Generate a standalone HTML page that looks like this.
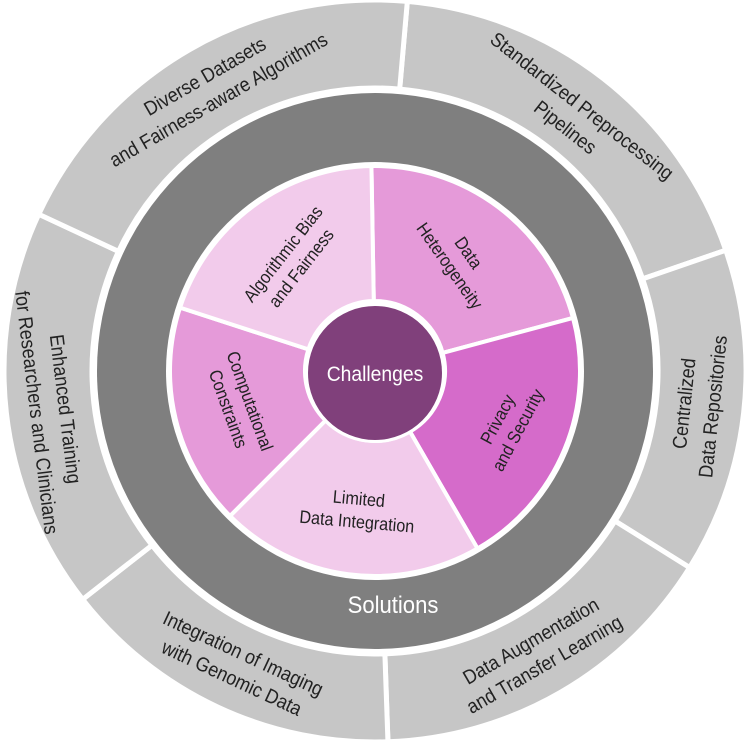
<!DOCTYPE html>
<html><head><meta charset="utf-8">
<style>
html,body{margin:0;padding:0;background:#fff;width:750px;height:742px;overflow:hidden}
svg text{font-family:"Liberation Sans",sans-serif}
</style></head>
<body>
<svg id="s" width="750" height="742" viewBox="0 0 750 742" xmlns="http://www.w3.org/2000/svg"></svg>
<script>
const CX=375,CY=371,s=document.getElementById('s');
function pt(r,a){const t=(a-90)*Math.PI/180;return [CX+r*Math.cos(t),CY+r*Math.sin(t)];}
function sector(r1,r2,a1,a2,fill,sw){
 const p1=pt(r2,a1),p2=pt(r2,a2),p3=pt(r1,a2),p4=pt(r1,a1);const lg=(a2-a1)>180?1:0;
 const d=`M${p1} A${r2},${r2} 0 ${lg} 1 ${p2} L${p3} A${r1},${r1} 0 ${lg} 0 ${p4}Z`;
 return `<path d="${d}" fill="${fill}" stroke="#fff" stroke-width="${sw}"/>`;}
function label(lines,r,a,size,gap,rot){
 let bottom=(a%360)>90&&(a%360)<270;
 let ro=rot!==undefined?rot:(bottom?a-180:a);
 const [x,y]=pt(r,a);let out=`<g transform="translate(${x},${y}) rotate(${ro}) scale(0.9,1)">`;
 const n=lines.length;
 lines.forEach((l,i)=>{const dy=(i-(n-1)/2)*gap+size*0.35;
  out+=`<text x="0" y="${dy}" text-anchor="middle" font-size="${size}" fill="#222">${l}</text>`;});
 return out+'</g>';}
let h='';
const outer=[[5,71],[71,122],[122,178],[178,232],[232,295],[295,365]];
outer.forEach(o=>h+=sector(283,371,o[0],o[1],'#c6c6c6',5));
h+=`<circle cx="${CX}" cy="${CY}" r="278" fill="#7f7f7f"/>`;
h+=`<circle cx="${CX}" cy="${CY}" r="209" fill="#fff"/>`;
const pet=[[-1,75,'#e59ad9'],[75,150,'#d56bca'],[150,225,'#f2cbeb'],[225,288,'#e59ad9'],[288,359,'#f2cbeb']];
pet.forEach(o=>h+=sector(70,205,o[0],o[1],o[2],4));
h+=`<circle cx="${CX}" cy="${CY+2}" r="70" fill="#fff"/><circle cx="${CX}" cy="${CY+2}" r="67" fill="#80407b"/>`;
h+=`<text x="${CX}" y="${CY+10}" text-anchor="middle" font-size="21" fill="#fff" transform="translate(${CX*0.08},0) scale(0.92,1)">Challenges</text>`;
h+=`<text x="393" y="613" text-anchor="middle" font-size="24" fill="#fff" transform="translate(${393*0.08},0) scale(0.92,1)">Solutions</text>`;
h+=label(['Diverse Datasets','and Fairness-aware Algorithms'],327,330,20,27);
h+=label(['Standardized Preprocessing','Pipelines'],323,38,20,27);
h+=label(['Centralized','Data Repositories'],325,96,20,29);
h+=label(['Data Augmentation','and Transfer Learning'],325,150,20,27);
h+=label(['Integration of Imaging','with Genomic Data'],325,205,20,27);
h+=label(['Enhanced Training','for Researchers and Clinicians'],326,263,20,29);
h+=label(['Data','Heterogeneity'],140,37,18,23,55);
h+=label(['Privacy','and Security'],143,112,18,23,-62);
h+=label(['Limited','Data Integration'],140,187,18,23,5);
h+=label(['Computational','Constraints'],140,256,18,23,70);
h+=label(['Algorithmic Bias','and Fairness'],138,323,18,23,-52);
s.innerHTML=h;
</script>
</body></html>
